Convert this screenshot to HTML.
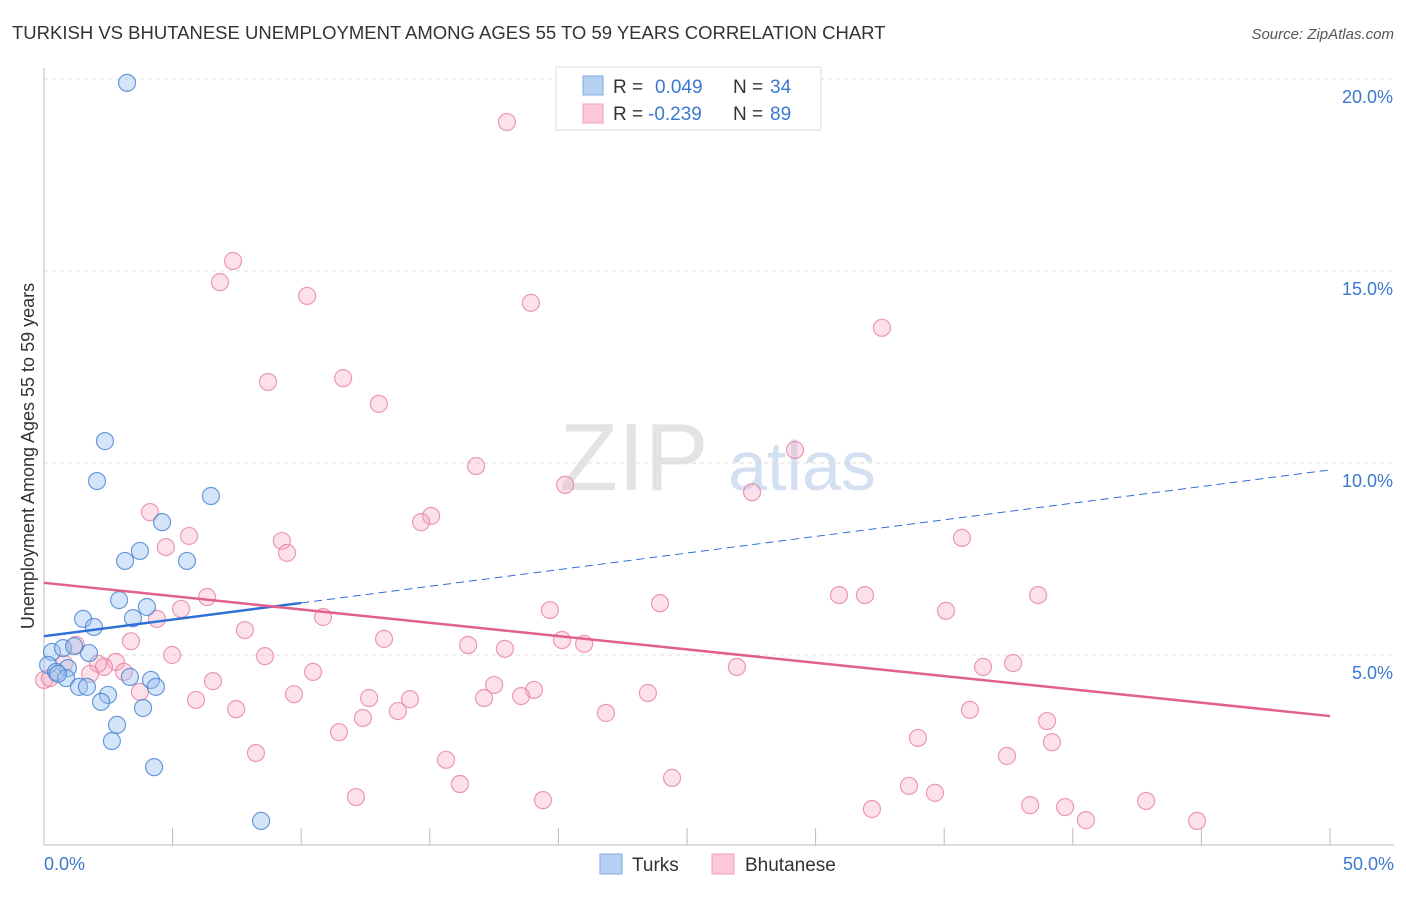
<!DOCTYPE html>
<html><head><meta charset="utf-8"><style>
body{margin:0;background:#fff;font-family:"Liberation Sans",sans-serif;}
svg text{font-family:"Liberation Sans",sans-serif;}
</style></head><body>
<svg id="chart" width="1406" height="892" xmlns="http://www.w3.org/2000/svg">
<text x="12" y="39" font-size="18.5" fill="#333">TURKISH VS BHUTANESE UNEMPLOYMENT AMONG AGES 55 TO 59 YEARS CORRELATION CHART</text>
<text x="1394" y="39" font-size="15" fill="#555" text-anchor="end" font-style="italic">Source: ZipAtlas.com</text>
<g>
<text x="634" y="490" font-size="96" fill="#ddd" text-anchor="middle" font-family="Liberation Serif" opacity="0.8">ZIP</text>
<text x="802" y="490" font-size="70" fill="#c9d9ef" text-anchor="middle" opacity="0.8">atlas</text>
</g>
<g id="grid"></g><g id="axes"></g><g id="marks"></g>
<text transform="translate(34,456) rotate(-90)" font-size="18" fill="#333" text-anchor="middle">Unemployment Among Ages 55 to 59 years</text>
<g>
<rect x="556" y="67" width="265" height="63" fill="#fff" stroke="#ddd"/>
<rect x="583" y="76" width="20" height="19" fill="#b7d1f5" stroke="#7fa9e3"/>
<rect x="583" y="104" width="20" height="19" fill="#fcc8d8" stroke="#ef9fb8"/>
<text x="613" y="93" font-size="19" fill="#333">R =</text><text x="655" y="93" font-size="19" fill="#3b78d0">0.049</text>
<text x="733" y="93" font-size="19" fill="#333">N =</text><text x="770" y="93" font-size="19" fill="#3b78d0">34</text>
<text x="613" y="120" font-size="19" fill="#333">R =</text><text x="648" y="120" font-size="19" fill="#3b78d0">-0.239</text>
<text x="733" y="120" font-size="19" fill="#333">N =</text><text x="770" y="120" font-size="19" fill="#3b78d0">89</text>
</g>
<g>
<rect x="600" y="854" width="22" height="20" fill="#b7d1f5" stroke="#7fa9e3"/>
<text x="632" y="871" font-size="19" fill="#333">Turks</text>
<rect x="712" y="854" width="22" height="20" fill="#fcc8d8" stroke="#ef9fb8"/>
<text x="745" y="871" font-size="19" fill="#333">Bhutanese</text>
</g>
</svg>
<script>
const xTicks=[0,5,10,15,20,25,30,35,40,45,50];
const yTicks=[5,10,15,20];
const yTickLabels=["5.0%","10.0%","15.0%","20.0%"];
const xEndLabels=["0.0%","50.0%"];
const turksX=[3.23,2.37,2.06,6.49,4.59,3.73,3.15,5.56,2.92,4.00,3.46,1.52,1.94,0.31,0.74,1.75,1.17,0.93,0.16,0.47,0.86,3.34,4.16,1.36,1.67,4.35,2.49,2.22,3.85,2.84,2.64,4.28,8.44,0.54];
const turksY=[19.90,10.57,9.53,9.14,8.46,7.71,7.45,7.45,6.43,6.25,5.96,5.94,5.73,5.08,5.18,5.05,5.23,4.66,4.74,4.56,4.40,4.43,4.35,4.17,4.17,4.17,3.96,3.78,3.62,3.18,2.76,2.08,0.68,4.51];
const bhutX=[18.00,7.35,6.84,10.23,18.93,32.58,8.71,11.63,13.02,29.20,16.80,20.26,27.53,15.05,14.66,4.12,5.64,4.74,9.25,9.45,35.69,30.91,31.92,38.65,6.34,5.33,23.95,19.67,35.07,10.85,4.39,7.81,3.38,13.22,20.14,21.00,16.49,17.92,1.24,4.98,8.59,2.80,2.33,0.78,2.10,3.11,1.79,10.46,26.94,36.51,37.68,0.00,0.23,6.57,17.50,3.73,19.05,9.72,23.48,5.91,12.64,14.23,17.11,18.55,7.47,13.76,21.85,36.00,12.40,39.00,11.47,33.98,39.19,8.24,37.44,15.63,24.42,16.17,33.63,34.64,12.13,19.40,42.85,38.34,39.70,32.19,40.51,44.83];
const bhutY=[18.88,15.26,14.71,14.35,14.17,13.52,12.11,12.21,11.54,10.34,9.92,9.43,9.24,8.62,8.46,8.72,8.10,7.81,7.97,7.66,8.05,6.56,6.56,6.56,6.51,6.20,6.35,6.17,6.15,5.99,5.94,5.65,5.36,5.42,5.39,5.29,5.26,5.16,5.26,5.00,4.97,4.82,4.69,4.77,4.77,4.56,4.51,4.56,4.69,4.69,4.79,4.35,4.40,4.32,4.22,4.04,4.09,3.98,4.01,3.83,3.88,3.85,3.88,3.93,3.59,3.54,3.49,3.57,3.36,3.28,2.99,2.84,2.73,2.45,2.37,2.27,1.80,1.64,1.59,1.41,1.30,1.22,1.20,1.09,1.04,0.99,0.70,0.68];
const turksTrend=[5.49,9.82];
const bhutTrend=[6.88,3.41];
const turksSolidEnd=10;
const NS="http://www.w3.org/2000/svg";
const X=v=>44+v*25.72, Y=v=>847-v*38.4;
function mk(p,t,a){const e=document.createElementNS(NS,t);for(const k in a)e.setAttribute(k,a[k]);document.getElementById(p).appendChild(e);return e;}
yTicks.forEach((t,i)=>{
 const g=mk('grid','line',{x1:44,x2:1394,y1:Y(t),y2:Y(t),stroke:'#ddd','stroke-dasharray':'4,4'});
 
 
 const l=mk('axes','text',{x:1393,y:Y(t)+24,'font-size':18,fill:'#3b78d0','text-anchor':'end'});
 l.textContent=yTickLabels[i];
 
 
});
const ax=mk('axes','line',{x1:44,x2:44,y1:68,y2:845,stroke:'#bbb'});


const bx=mk('axes','line',{x1:44,x2:1394,y1:845,y2:845,stroke:'#bbb'});


xTicks.forEach(t=>{const k=mk('axes','line',{x1:X(t),x2:X(t),y1:828,y2:845,stroke:'#bbb'});
 
 });
[[0,'start',44],[50,'end',1394]].forEach((d,i)=>{const l=mk('axes','text',{x:d[2],y:870,'font-size':18,fill:'#3b78d0','text-anchor':d[1]});l.textContent=xEndLabels[i];
 
 });
bhutX.forEach((v,i)=>{const c=mk('marks','circle',{cx:X(v),cy:Y(bhutY[i]),r:8.5,fill:'rgba(247,170,196,0.35)',stroke:'rgba(230,120,160,0.75)','stroke-width':1.2});
 
 });
turksX.forEach((v,i)=>{const c=mk('marks','circle',{cx:X(v),cy:Y(turksY[i]),r:8.5,fill:'rgba(150,190,240,0.4)',stroke:'rgba(70,130,210,0.8)','stroke-width':1.2});
 
 });
const tY=x=>turksTrend[0]+(turksTrend[1]-turksTrend[0])*x/50;
let l1=mk('marks','line',{x1:X(0),y1:Y(tY(0)),x2:X(turksSolidEnd),y2:Y(tY(turksSolidEnd)),stroke:'#2f6fd6','stroke-width':2.5});


let l2=mk('marks','line',{x1:X(turksSolidEnd),y1:Y(tY(turksSolidEnd)),x2:X(50),y2:Y(tY(50)),stroke:'#2f6fd6','stroke-width':1,'stroke-dasharray':'8,5'});


let l3=mk('marks','line',{x1:X(0),y1:Y(bhutTrend[0]),x2:X(50),y2:Y(bhutTrend[1]),stroke:'#e2608e','stroke-width':2.5});


</script>
</body></html>
